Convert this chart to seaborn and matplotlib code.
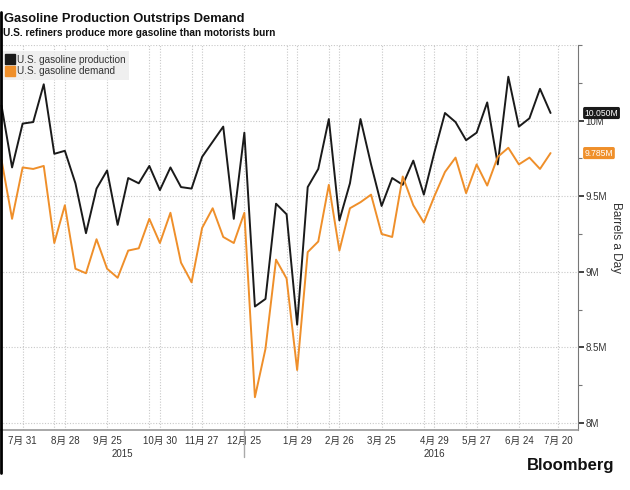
import matplotlib
matplotlib.use("Agg")
import matplotlib.pyplot as plt
from matplotlib.lines import Line2D
import seaborn as sns
import pandas as pd

# weekly EIA figures, million barrels a day, week ending Fridays
first_week = "2015-07-17"
production = [10.10, 9.69, 9.98, 9.99, 10.24, 9.78, 9.80, 9.585, 9.255, 9.55,
              9.67, 9.31, 9.62, 9.585, 9.70, 9.54, 9.69, 9.56, 9.55, 9.76,
              9.86, 9.96, 9.35, 9.92, 8.77, 8.82, 9.45, 9.38, 8.65, 9.56,
              9.68, 10.01, 9.34, 9.585, 10.01, 9.71, 9.435, 9.62, 9.575, 9.735,
              9.51, 9.79, 10.05, 9.99, 9.87, 9.92, 10.12, 9.71, 10.29, 9.96,
              10.015, 10.21, 10.05]
demand = [9.74, 9.35, 9.69, 9.68, 9.70, 9.19, 9.44, 9.02, 8.99, 9.215,
          9.02, 8.96, 9.14, 9.155, 9.35, 9.19, 9.39, 9.06, 8.93, 9.29,
          9.42, 9.23, 9.19, 9.39, 8.17, 8.49, 9.08, 8.955, 8.35, 9.13,
          9.20, 9.575, 9.14, 9.42, 9.46, 9.51, 9.25, 9.23, 9.63, 9.44,
          9.325, 9.50, 9.66, 9.755, 9.52, 9.71, 9.57, 9.76, 9.82, 9.71,
          9.755, 9.68, 9.785]
series_names = ["U.S. gasoline production", "U.S. gasoline demand"]
series_colors = ["#1a1a1a", "#ef8f2a"]

tick_dates = ["2015-07-31", "2015-08-28", "2015-09-25", "2015-10-30", "2015-11-27",
              "2015-12-25", "2016-01-29", "2016-02-26", "2016-03-25", "2016-04-29",
              "2016-05-27", "2016-06-24", "2016-07-20"]
extra_grid_dates = ["2015-08-21", "2015-10-23", "2015-11-20", "2016-01-22",
                    "2016-02-19", "2016-04-22", "2016-05-20"]
y_ticks = [8, 8.5, 9, 9.5, 10]
y_tick_labels = ["8M", "8.5M", "9M", "9.5M", "10M"]

weeks = pd.date_range(first_week, periods=len(production), freq="7D")
df = pd.concat([
    pd.DataFrame({"date": weeks, "value": production, "series": series_names[0]}),
    pd.DataFrame({"date": weeks, "value": demand, "series": series_names[1]}),
], ignore_index=True)

sns.set_style("white")
plt.rcParams["font.family"] = ["Liberation Sans", "Noto Sans CJK SC", "DejaVu Sans"]

fig = plt.figure(figsize=(6.3, 4.9), dpi=100)
ax = fig.add_axes([0.0, 0.1224, 0.917, 0.7858])

sns.lineplot(data=df, x="date", y="value", hue="series", palette=series_colors,
             linewidth=1.4, legend=False, ax=ax)

ax.set_xlim(pd.Timestamp("2015-07-16"), pd.Timestamp("2016-08-02"))
ax.set_ylim(7.953, 10.5)

# grid
grid_kw = dict(color="#c8c8c8", linestyle=(0, (1, 1.5)), linewidth=0.8, zorder=0)
for gy in [8, 8.5, 9, 9.5, 10, 10.5]:
    ax.axhline(gy, **grid_kw)
for gd in tick_dates + extra_grid_dates:
    ax.axvline(pd.Timestamp(gd), **grid_kw)

# axes styling
for side in ["left", "top"]:
    ax.spines[side].set_visible(False)
ax.spines["right"].set_color("#777777")
ax.spines["bottom"].set_color("#9a9a9a")
ax.spines["bottom"].set_linewidth(1.2)

ax.yaxis.tick_right()
ax.set_yticks(y_ticks)
ax.set_yticklabels(y_tick_labels)
ax.set_yticks([8.25, 8.75, 9.25, 9.75, 10.25, 10.5], minor=True)
ax.tick_params(axis="y", which="major", direction="out", length=4, width=1.3,
               color="#333333", labelsize=7, pad=1.5, labelcolor="#333333")
ax.tick_params(axis="y", which="minor", direction="out", length=3, width=0.8,
               color="#777777")
ax.set_xticks([pd.Timestamp(d) for d in tick_dates])
ax.set_xticklabels([f"{pd.Timestamp(d).month}月 {pd.Timestamp(d).day}" for d in tick_dates])
ax.tick_params(axis="x", length=0, labelsize=7, pad=4, labelcolor="#333333")
ax.set_xlabel("")
ax.yaxis.set_label_position("right")
ax.set_ylabel("Barrels a Day", rotation=270, labelpad=11, fontsize=8.5, color="#333333")

# year labels and separator
trans = ax.get_xaxis_transform()
ax.text(pd.Timestamp("2015-10-05"), -0.05, "2015", transform=trans, ha="center",
        va="top", fontsize=7, color="#333333")
ax.text(pd.Timestamp("2016-04-29"), -0.05, "2016", transform=trans, ha="center",
        va="top", fontsize=7, color="#333333")
ax.add_line(Line2D([pd.Timestamp("2015-12-25")] * 2, [0, -0.07], transform=trans,
                   color="#aaaaaa", linewidth=1, clip_on=False))

# last value tags
ytrans = ax.get_yaxis_transform()
for vals, col in zip([production, demand], series_colors):
    ax.text(1.012, vals[-1], f"{vals[-1]:.3f}M", transform=ytrans, ha="left",
            va="center", fontsize=6.2, color="white",
            bbox=dict(boxstyle="round,pad=0.18,rounding_size=0.2", fc=col, ec="none"))

# legend
handles = [Line2D([], [], marker="s", linestyle="none", markersize=7,
                  markerfacecolor=c, markeredgecolor=c) for c in series_colors]
leg = ax.legend(handles, series_names, loc="upper left", bbox_to_anchor=(0.003, 0.985),
                fontsize=7.2, frameon=True, fancybox=False, handlelength=0.8,
                handletextpad=0.3, labelspacing=0.15, borderpad=0.4, borderaxespad=0)
leg.get_frame().set_facecolor("#ececec")
leg.get_frame().set_edgecolor("none")
for t in leg.get_texts():
    t.set_color("#333333")

# titles
fig.text(0.006, 0.962, "Gasoline Production Outstrips Demand", fontsize=9.3,
         fontweight="bold", ha="left", va="center", color="#111111")
fig.text(0.004, 0.932, "U.S. refiners produce more gasoline than motorists burn",
         fontsize=7.3, fontweight="bold", ha="left", va="center", color="#111111")
fig.text(0.975, 0.051, "Bloomberg", fontsize=12, fontweight="bold", ha="right",
         va="center", color="#111111")

fig.add_artist(Line2D([0.002, 0.002], [0.035, 0.975], transform=fig.transFigure,
                      color="black", linewidth=2))

fig.savefig("out.png", dpi=100)
